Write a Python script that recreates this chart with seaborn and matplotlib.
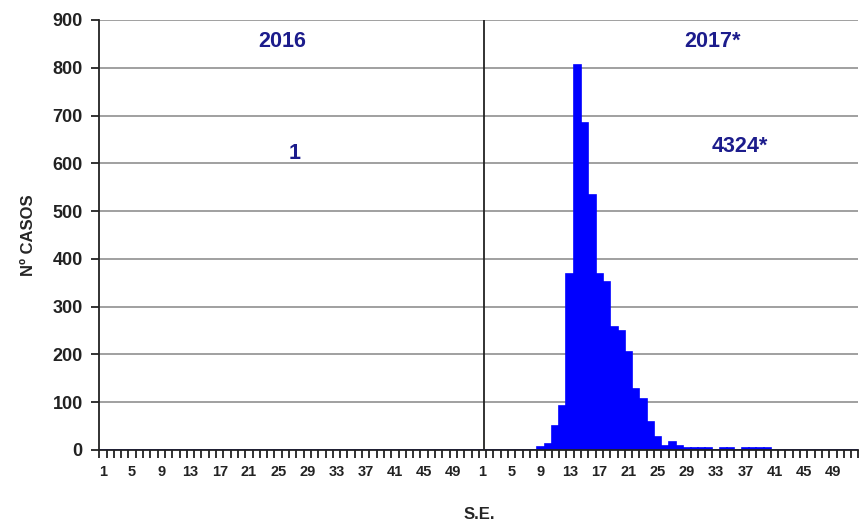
import matplotlib

matplotlib.use("Agg")
import matplotlib.pyplot as plt
import numpy as np
import pandas as pd
import seaborn as sns

sns.set_style("white")
plt.rcParams["font.family"] = ["Liberation Sans", "DejaVu Sans"]

# weekly cases (S.E. = semana epidemiologica), 52 weeks per year
cases_2016 = [0] * 51 + [1]
cases_2017 = [
    0, 0, 0, 0, 0, 0, 0, 0, 7, 13,
    50, 92, 368, 805, 684, 533, 368, 352, 257, 248,
    206, 127, 106, 58, 27, 9, 17, 9, 4, 4,
    4, 4, 0, 4, 4, 0, 4, 4, 4, 4,
    0, 0, 0, 0, 0, 0, 0, 0, 0, 0,
    0, 0,
]
week_labels = [str(w) for w in range(1, 53, 4)]
year_labels = ["2016", "2017*"]
year_totals = ["1", "4324*"]
y_ticks = list(range(0, 901, 100))

df = pd.DataFrame({"casos": cases_2016 + cases_2017})
df["pos"] = np.arange(len(df))

fig = plt.figure(figsize=(8.59, 5.23), dpi=100)
ax = fig.add_axes([0.1156, 0.1396, 0.8838, 0.8222])

sns.barplot(
    data=df, x="pos", y="casos", native_scale=True, width=1.0,
    color="#0000FF", saturation=1, edgecolor="#0000FF", linewidth=1.2, ax=ax,
)

ax.set_xlim(-0.5, 103.5)
ax.set_ylim(0, 900)
ax.set_yticks(y_ticks)
ax.yaxis.grid(True, color="#999999", linewidth=1.3)
ax.set_axisbelow(True)

# week labels every 4 weeks for each year, minor ticks on week boundaries
n16 = len(cases_2016)
pos_labels = [int(w) - 1 for w in week_labels] + [n16 + int(w) - 1 for w in week_labels]
ax.set_xticks(pos_labels)
ax.set_xticklabels(week_labels + week_labels, fontsize=10.5, fontweight="bold", color="#222222")
ax.set_xticks(np.arange(-0.5, 104, 1), minor=True)
ax.tick_params(axis="x", which="major", bottom=True, length=0, pad=11)
ax.tick_params(axis="x", which="minor", bottom=True, length=6, width=1.3, color="#222222", direction="out")
ax.tick_params(axis="y", left=True, length=6, width=1.3, color="#222222", direction="out", pad=6)
for lab in ax.get_yticklabels():
    lab.set_fontweight("bold")
    lab.set_fontsize(13)
    lab.set_color("#222222")

for side in ["top", "right"]:
    ax.spines[side].set_visible(False)
for side in ["left", "bottom"]:
    ax.spines[side].set_color("#222222")
    ax.spines[side].set_linewidth(1.3)

# year divider
ax.axvline(52.2, 0, 1, color="#222222", linewidth=1.3)

navy = "#1c1c8c"
ax.text(24.5, 855, year_labels[0], ha="center", va="center", fontsize=15.5, fontweight="bold", color=navy)
ax.text(83.5, 855, year_labels[1], ha="center", va="center", fontsize=15.5, fontweight="bold", color=navy)
ax.text(26.2, 620, year_totals[0], ha="center", va="center", fontsize=15.5, fontweight="bold", color=navy)
ax.text(87.3, 635, year_totals[1], ha="center", va="center", fontsize=15.5, fontweight="bold", color=navy)

ax.set_xlabel("S.E.", fontsize=12, fontweight="bold", labelpad=20)
ax.set_ylabel("Nº CASOS", fontsize=12, fontweight="bold", labelpad=12)

fig.savefig("out.png", dpi=100)
